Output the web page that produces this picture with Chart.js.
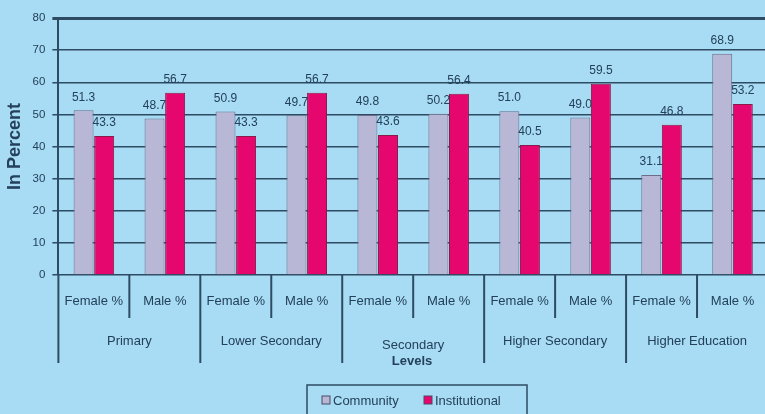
<!DOCTYPE html>
<html>
<head>
<meta charset="utf-8">
<script src="https://cdn.jsdelivr.net/npm/chart.js@4"></script>
<style>
  html, body { margin: 0; padding: 0; background: #a8dcf4; overflow: hidden; }
  #wrap { width: 768px; height: 414px; position: relative; }
</style>
</head>
<body>
<div id="wrap"><canvas id="levelsChart"></canvas></div>
<script>
const subLabels = ['Female %', 'Male %', 'Female %', 'Male %', 'Female %', 'Male %', 'Female %', 'Male %', 'Female %', 'Male %'];
const groupLabels = ['Primary', 'Lower Secondary', 'Secondary', 'Higher Secondary', 'Higher Education'];
const community = [51.3, 48.7, 50.9, 49.7, 49.8, 50.2, 51.0, 49.0, 31.1, 68.9];
const institutional = [43.3, 56.7, 43.3, 56.7, 43.6, 56.4, 40.5, 59.5, 46.8, 53.2];
const yTicks = [0, 10, 20, 30, 40, 50, 60, 70, 80];

const inkColor = '#24405a';
const lineColor = '#2d4b62';
const fontFamily = '"Liberation Sans", Arial, sans-serif';

// draws the two-row category axis, the value labels and the boxed legend
const levelsAxis = {
    id: 'levelsAxis',
    afterDraw(chart) {
        const ctx = chart.ctx;
        const area = chart.chartArea;
        const x = chart.scales.x;
        const step = x.width / subLabels.length;
        ctx.save();

        // value labels over the bars
        ctx.fillStyle = inkColor;
        ctx.font = '12px ' + fontFamily;
        ctx.textAlign = 'center';
        ctx.textBaseline = 'bottom';
        chart.data.datasets.forEach((ds, di) => {
            chart.getDatasetMeta(di).data.forEach((bar, i) => {
                ctx.fillText(ds.data[i].toFixed(1), bar.x, bar.y - 7);
            });
        });

        // separators under the axis
        ctx.strokeStyle = lineColor;
        ctx.lineWidth = 2;
        for (let i = 0; i <= subLabels.length; i++) {
            const sx = x.getPixelForValue(i) - step / 2;
            const len = i % 2 === 0 ? 88 : 43;
            ctx.beginPath();
            ctx.moveTo(sx, area.bottom);
            ctx.lineTo(sx, area.bottom + len);
            ctx.stroke();
        }

        // first row: Female % / Male %
        ctx.textBaseline = 'middle';
        ctx.font = '13px ' + fontFamily;
        subLabels.forEach((lab, i) => {
            ctx.fillText(lab, x.getPixelForValue(i), area.bottom + 26);
        });

        // second row: levels
        groupLabels.forEach((lab, g) => {
            const gx = (x.getPixelForValue(g * 2) + x.getPixelForValue(g * 2 + 1)) / 2;
            ctx.fillText(lab, gx, area.bottom + (g === 2 ? 70 : 66));
        });

        // axis title
        ctx.font = 'bold 13px ' + fontFamily;
        ctx.fillText('Levels', 412, area.bottom + 86);

        // legend box
        const bx = 307, by = 385, bw = 220, bh = 40;
        ctx.strokeStyle = lineColor;
        ctx.lineWidth = 1.5;
        ctx.strokeRect(bx, by, bw, bh);
        ctx.font = '13px ' + fontFamily;
        ctx.textAlign = 'left';
        chart.data.datasets.forEach((ds, di) => {
            const lx = di === 0 ? 322 : 424;
            ctx.fillStyle = ds.backgroundColor;
            ctx.fillRect(lx, 396, 8, 8);
            ctx.lineWidth = 1;
            ctx.strokeStyle = '#4a4a66';
            ctx.strokeRect(lx, 396, 8, 8);
            ctx.fillStyle = inkColor;
            ctx.fillText(ds.label, lx + 11, 401);
        });
        ctx.restore();
    }
};

const ctxLevels = document.getElementById('levelsChart').getContext('2d');
const levelsChart = new Chart(ctxLevels, {
    type: 'bar',
    data: {
        labels: subLabels,
        datasets: [{
            label: 'Community',
            data: community,
            backgroundColor: '#b8b8d6',
            borderColor: '#6d6d88',
            borderWidth: 1,
            borderSkipped: 'bottom'
        }, {
            label: 'Institutional',
            data: institutional,
            backgroundColor: '#e6076e',
            borderColor: '#8a1a4a',
            borderWidth: 1,
            borderSkipped: 'bottom'
        }]
    },
    options: {
        responsive: true,
        maintainAspectRatio: false,
        animation: false,
        devicePixelRatio: 1,
        datasets: {
            bar: { categoryPercentage: 0.58, barPercentage: 0.97 }
        },
        layout: { padding: { left: 4, top: 18, right: 0, bottom: 131 } },
        scales: {
            x: {
                ticks: { display: false },
                grid: { display: false },
                border: { display: false }
            },
            y: {
                min: 0,
                max: 80,
                afterBuildTicks: (axis) => { axis.ticks = yTicks.map(v => ({ value: v })); },
                ticks: {
                    color: inkColor,
                    padding: 7,
                    font: { family: fontFamily, size: 11.5 }
                },
                grid: {
                    color: lineColor,
                    lineWidth: (c) => (c.tick && c.tick.value === 80 ? 3 : 1.5),
                    tickLength: 6
                },
                border: { display: true, color: lineColor, width: 2 },
                title: {
                    display: true,
                    text: 'In Percent',
                    color: inkColor,
                    padding: { top: 0, bottom: 0 },
                    font: { family: fontFamily, size: 18, weight: 'bold' }
                }
            }
        },
        plugins: {
            legend: { display: false },
            tooltip: { enabled: false }
        }
    },
    plugins: [levelsAxis]
});
</script>
</body>
</html>
